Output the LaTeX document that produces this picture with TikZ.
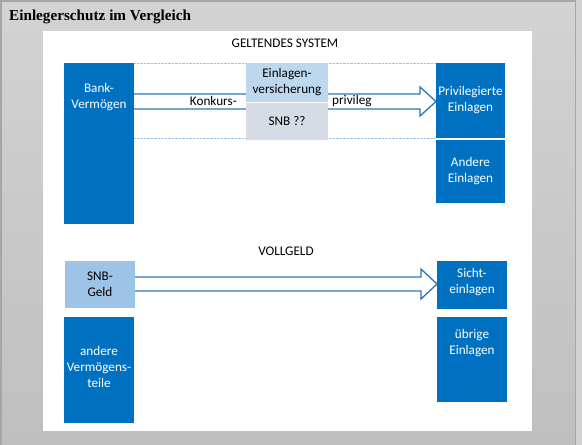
\documentclass[tikz,border=0pt]{standalone}
\usepackage{fontspec}
\setmainfont{Carlito}
\newfontfamily\titlefont{Liberation Serif}
\usetikzlibrary{calc}
\definecolor{bankblue}{HTML}{0070C0}
\definecolor{lightblue}{HTML}{9DC3E6}
\definecolor{paleblue}{HTML}{BDD7EE}
\definecolor{snbgray}{HTML}{D6DCE5}
\definecolor{arrowblue}{HTML}{2E75B6}
\definecolor{bgtop}{HTML}{D3D3D3}
\definecolor{bgbottom}{HTML}{BFBFBF}

\begin{document}
\begin{tikzpicture}[x=1pt, y=-1pt, font=\fontsize{13.2}{16}\selectfont,
  box/.style={anchor=north west, inner sep=0pt, outer sep=0pt, align=center},
  darkbox/.style={box, fill=bankblue},
  wtext/.style={text=white, align=center, inner sep=0pt},
  blockarrow/.style={draw=arrowblue, line width=1.3pt, fill=white, line join=miter}]

\useasboundingbox (0,0) rectangle (582,445);
%% Frame and title
\fill[bgtop] (0,0) rectangle (582,445);
\shade[top color=bgtop, bottom color=bgbottom] (0,0) rectangle (576,445);
\draw[gray!70, line width=1.5pt] (0.75,445) -- (0.75,0.75) -- (575.25,0.75) -- (575.25,445);
\node[anchor=base west, inner sep=0pt, font=\titlefont\bfseries\fontsize{15.2}{17}\selectfont] (title) at (9,20) {Einlegerschutz im Vergleich};
\fill[white] (43,31) rectangle (532,431);

%% Geltendes System
\node (geltend) at (285,43) {GELTENDES SYSTEM};
\node[darkbox, minimum width=70, minimum height=161] (bank) at (64,63) {};
\node[darkbox, minimum width=69, minimum height=75] (priv) at (436,63) {};
\node[darkbox, minimum width=69, minimum height=63] (andere) at (436,140) {};
\node[wtext] (banktxt) at (99,97) {Bank-\\Vermögen};
\node[wtext] (privtxt) at (470.5,100) {Privilegierte\\Einlagen};
\node[wtext] (anderetxt) at (470.5,171.5) {Andere\\Einlagen};

%% dotted frame round the privileg
\draw[lightblue, densely dotted] (bank.north east) -- (priv.north west);
\draw[lightblue, densely dotted] (bank.east |- 0,138) -- (priv.south west);

%% block arrow: shaft 94..109, head 87..116
\coordinate (tipA) at (priv.west |- 0,101.5);
\draw[blockarrow] (bank.east |- 0,94) -- (420,94) -- (420,87) -- (tipA)
  -- (420,116) -- (420,109) -- (bank.east |- 0,109);

\node[box, fill=paleblue, minimum width=82, minimum height=39] (versich) at (246,63) {Einlagen-\\versicherung};
\node[box, fill=snbgray, minimum width=82, minimum height=37] (snb) at (246,103) {SNB ??};
\node[anchor=east, inner sep=0pt] (konkurs) at (237,101) {Konkurs-};
\node[anchor=west, inner sep=0pt] (privileg) at (332,101) {privileg};

%% Vollgeld
\node (vollgeld) at (286,251) {VOLLGELD};
\node[box, fill=lightblue, minimum width=70, minimum height=47] (snbgeld) at (65,261) {SNB-\\Geld};
\node[darkbox, minimum width=70, minimum height=106] (rest) at (64,317) {};
\node[darkbox, minimum width=70, minimum height=48] (sicht) at (437,261) {};
\node[darkbox, minimum width=70, minimum height=85] (uebrig) at (437,317) {};
\node[wtext] (resttxt) at (99,367) {andere\\Vermögens-\\teile};
\node[wtext] (sichttxt) at (472,282) {Sicht-\\einlagen};
\node[wtext] (uebrigtxt) at (472,343) {übrige\\Einlagen};

\coordinate (tipB) at (sicht.west |- 0,284);
\draw[blockarrow] (snbgeld.east |- 0,277) -- (421,277) -- (421,269) -- (tipB)
  -- (421,299) -- (421,291) -- (snbgeld.east |- 0,291);
\end{tikzpicture}
\end{document}
